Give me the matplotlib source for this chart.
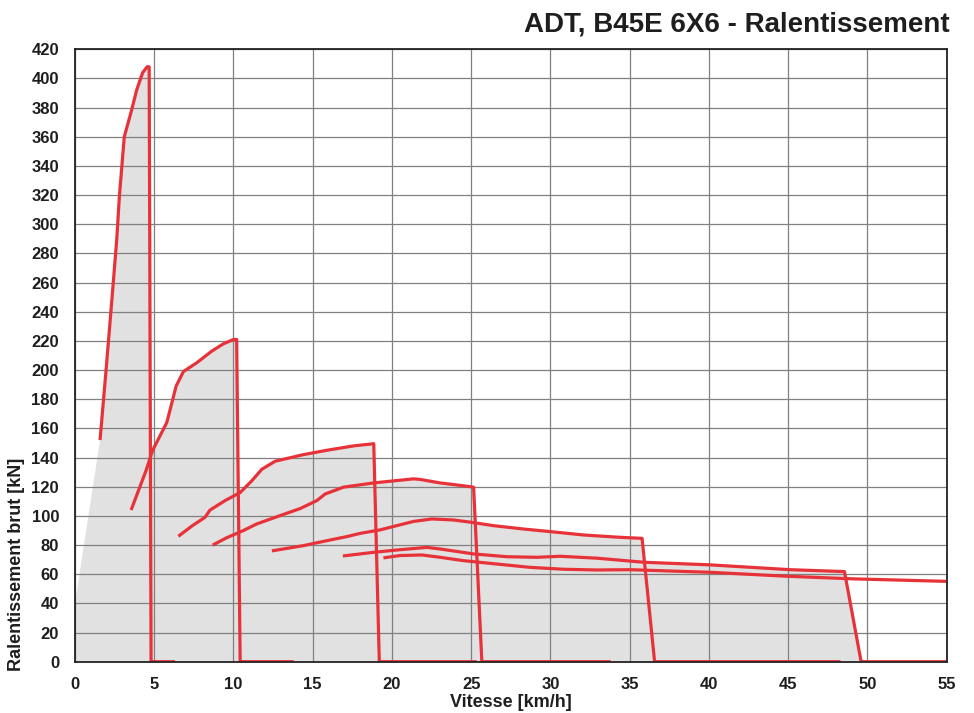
import matplotlib
matplotlib.use("Agg")
import matplotlib.pyplot as plt

plt.rcParams['font.family'] = ['Liberation Sans', 'DejaVu Sans']

title = "ADT, B45E 6X6 - Ralentissement"
xlabel = "Vitesse [km/h]"
ylabel = "Ralentissement brut [kN]"
x_ticks = [0, 5, 10, 15, 20, 25, 30, 35, 40, 45, 50, 55]
y_ticks = list(range(0, 421, 20))

# lead-in of the shaded envelope (left edge)
env_x = [0, 0]
env_y = [0, 40]

# gear curves (speed km/h, retardation kN)
g1_x = [1.58, 1.96, 2.34, 2.63, 2.80, 2.95, 3.11, 3.54, 3.89, 4.27, 4.55, 4.68]
g1_y = [152, 200, 250, 289, 319, 339, 360, 377, 392, 404, 408, 408]
g1_drop, g1_end = 4.8, 6.3

g2_x = [3.54, 4.48, 4.9, 5.79, 6.1, 6.38, 6.84, 7.68, 8.63, 9.36, 10.0, 10.2]
g2_y = [104, 131, 145, 164, 177, 189, 199, 205, 213, 218, 221, 221]
g2_drop, g2_end = 10.42, 13.8

g3_x = [6.52, 7.37, 8.2, 8.52, 9.47, 10.42, 11.15, 11.79, 12.63, 14.41, 15.89, 17.57, 18.85]
g3_y = [86, 93, 99, 104, 110.5, 116, 124, 132, 137.5, 142, 145, 148, 149.5]
g3_drop, g3_end = 19.2, 25.35

g4_x = [8.69, 9.57, 10.63, 11.47, 13.15, 14.2, 15.26, 15.78, 16.94, 18.83, 21.36, 21.78, 23.04, 24.1, 25.15]
g4_y = [80, 85, 90, 94.5, 101, 105, 110.5, 115, 119.7, 122.6, 125.4, 125, 122.6, 121.2, 119.7]
g4_drop, g4_end = 25.67, 33.8

g5_x = [12.42, 14.41, 15.89, 17.15, 17.99, 19.25, 20.3, 21.36, 22.52, 23.88, 24.94, 26.41, 28.3, 30.0, 32.1, 34.4, 35.78]
g5_y = [76, 79.6, 83, 85.8, 88, 90.4, 93.3, 96.2, 97.9, 97.2, 95.7, 93.3, 91, 89.2, 86.9, 85.3, 84.6]
g5_drop, g5_end = 36.57, 48.3

g6_x = [16.9, 18.83, 20.3, 22.2, 23.04, 25.15, 27.25, 29.14, 30.6, 32.93, 35.88, 40.09, 45.14, 48.55]
g6_y = [72.5, 75, 76.6, 78.4, 77.3, 73.9, 72, 71.6, 72.3, 71, 68.2, 66.4, 63.1, 61.8]
g6_drop, g6_end = 49.6, 55

g7_x = [19.46, 20.5, 21.89, 23.04, 24.51, 26.6, 28.72, 30.83, 32.93, 35.04, 40.09, 44.93, 49.14, 55]
g7_y = [71.2, 72.8, 73.2, 71.6, 69.3, 67, 64.7, 63.4, 62.9, 63.1, 61.3, 58.6, 56.8, 55.1]

RED = '#E8323A'
FILL = '#E1E1E1'
TXT = '#1e1e1e'

fig = plt.figure(figsize=(9.74, 7.13), dpi=100)
ax = fig.add_axes([75 / 974, (713 - 661.7) / 713, (946.7 - 75) / 974, (661.7 - 49.3) / 713])

gears = [
    (g1_x, g1_y, g1_drop, g1_end),
    (g2_x, g2_y, g2_drop, g2_end),
    (g3_x, g3_y, g3_drop, g3_end),
    (g4_x, g4_y, g4_drop, g4_end),
    (g5_x, g5_y, g5_drop, g5_end),
    (g6_x, g6_y, g6_drop, g6_end),
]

# shaded envelope
for i, (gx, gy, gd, ge) in enumerate(gears):
    px = list(gx) + [gd]
    py = list(gy) + [0]
    if i == 0:
        px = env_x + px
        py = env_y + py
    else:
        px = [gx[0]] + px
        py = [0] + py
    ax.fill(px, py, color=FILL, lw=0, zorder=1)

# lines
for gx, gy, gd, ge in gears:
    ax.plot(list(gx) + [gd, ge], list(gy) + [0, 0], color=RED, lw=2.3,
            solid_joinstyle='round', solid_capstyle='butt', zorder=3)
ax.plot(g7_x, g7_y, color=RED, lw=2.3, solid_joinstyle='round',
        solid_capstyle='butt', zorder=3)

ax.set_xlim(0, 55)
ax.set_ylim(0, 420)
ax.set_xticks(x_ticks)
ax.set_yticks(y_ticks)
ax.set_axisbelow(False)
ax.grid(True, color='#808080', lw=0.9, zorder=2)
for gl in ax.get_xgridlines() + ax.get_ygridlines():
    gl.set_zorder(2)
ax.tick_params(length=0, labelsize=12, labelcolor=TXT)
ax.tick_params(axis='y', pad=11.5)
ax.tick_params(axis='x', pad=11)
for lab in ax.get_xticklabels() + ax.get_yticklabels():
    lab.set_fontweight('bold')
for s in ax.spines.values():
    s.set_color('#222222')
    s.set_linewidth(1.3)
    s.set_zorder(4)

ax.set_xlabel(xlabel, fontsize=13, fontweight='bold', color=TXT, labelpad=1.5)
fig.text(17 / 974, 1 - 564.5 / 713, ylabel, rotation=90, ha='center', va='center',
         fontsize=13, fontweight='bold', color=TXT)
fig.text(950 / 974, 1 - 24 / 713, title, ha='right', va='center',
         fontsize=20, fontweight='bold', color=TXT)

fig.savefig('out.png', dpi=100)
